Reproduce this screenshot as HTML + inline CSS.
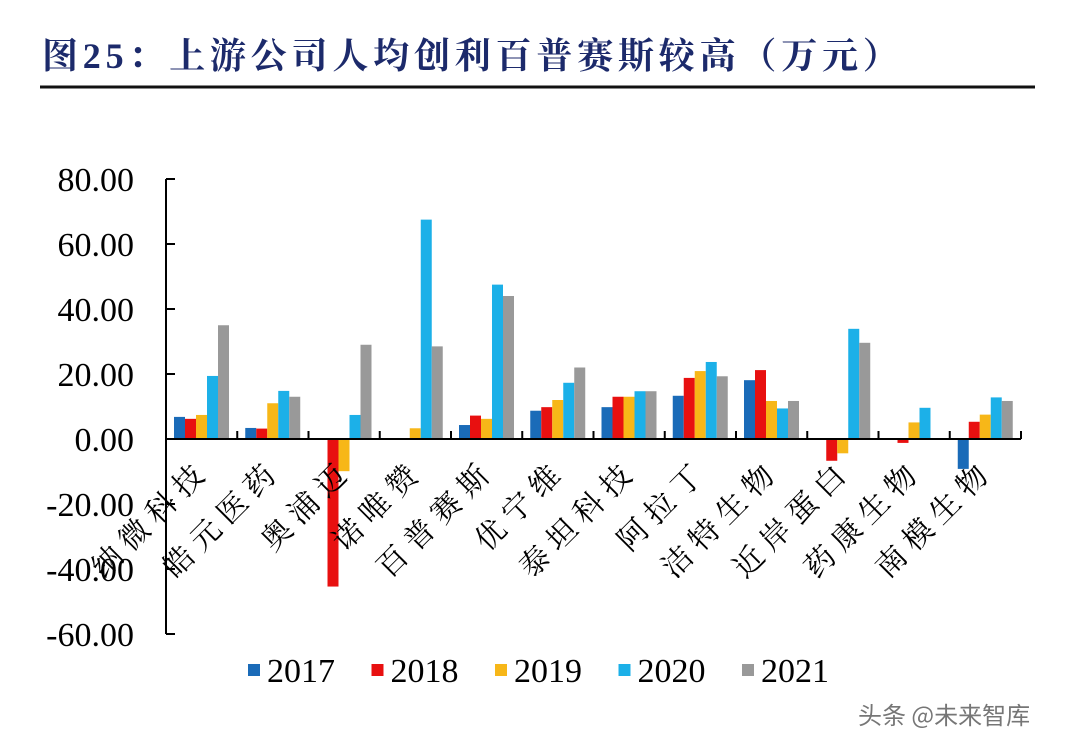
<!DOCTYPE html>
<html><head><meta charset="utf-8"><style>
body{margin:0;background:#fff;width:1080px;height:747px;overflow:hidden;}
svg{display:block}
</style></head><body>
<svg id="c" width="1080" height="747" viewBox="0 0 1080 747">
<text x="42" y="68" font-family="'Liberation Serif','Noto Serif CJK SC',serif" font-weight="bold" font-size="36" letter-spacing="4.8" fill="#1c2a6b">图25：上游公司人均创利百普赛斯较高（万元）</text>
<line x1="40" y1="87" x2="1035" y2="87" stroke="#111" stroke-width="3"/>
<g id="plot"></g>
<text x="858" y="724" font-family="'Noto Sans CJK SC',sans-serif" font-size="24" fill="#555" opacity="0.8">头条 @未来智库</text>
</svg>
<script>
const categories=["纳微科技","皓元医药","奥浦迈","诺唯赞","百普赛斯","优宁维","泰坦科技","阿拉丁","洁特生物","近岸蛋白","药康生物","南模生物"];
const seriesNames=["2017","2018","2019","2020","2021"];
const v2017=[6.8,3.4,0,0.3,4.3,8.7,9.8,13.3,18.1,0,0,-9.2];
const v2018=[6.2,3.2,-45.4,0,7.2,9.8,13,18.8,21.2,-6.7,-1.2,5.3];
const v2019=[7.4,11,-9.9,3.3,6.2,12,13,20.9,11.7,-4.4,5.1,7.5];
const v2020=[19.4,14.8,7.4,67.5,47.5,17.3,14.7,23.7,9.4,33.9,9.6,12.8];
const v2021=[35,13,29,28.5,44,22,14.7,19.3,11.7,29.6,0,11.7];
const yTicks=[80,60,40,20,0,-20,-40,-60];
const yTickLabels=["80.00","60.00","40.00","20.00","0.00","-20.00","-40.00","-60.00"];
const colors=["#1a6bb8","#e81010","#f7b718","#1cb0e8","#999999"];
const series=[v2017,v2018,v2019,v2020,v2021];
const NS="http://www.w3.org/2000/svg";
const g=document.getElementById('plot');
const x0=166,x1=1021;
function y(v){return 439-(v)*(439-179)/80;}
const band=(x1-x0)/categories.length;
function xc(i){return x0+band*i;}
function mk(t,a){const e=document.createElementNS(NS,t);for(const k in a)e.setAttribute(k,a[k]);g.appendChild(e);return e;}
const F="'Liberation Serif','Noto Serif CJK SC',serif";
let e=mk('line',{x1:x0,y1:y(80),x2:x0,y2:y(-60),stroke:'#000','stroke-width':2});


yTicks.forEach((t,i)=>{
 let l=mk('line',{x1:x0,y1:y(t),x2:x0+9,y2:y(t),stroke:'#000','stroke-width':2});
 
 
 let tx=mk('text',{x:134,y:y(t)+12,'text-anchor':'end','font-family':F,'font-size':34,fill:'#000'});
 tx.textContent=yTickLabels[i];
 
 
});
const bw=11;
categories.forEach((c,i)=>{
 series.forEach((s,k)=>{
  const v=s[i]; if(v===0) return;
  const bx=xc(i)+8+k*bw;
  const r=mk('rect',{x:bx,y:Math.min(y(v),y(0)),width:bw,height:Math.abs(y(v)-y(0)),fill:colors[k]});
  
  
 });
 const cx=xc(i)+band/2+10;
 const ty=472;
 const t=mk('text',{x:cx,y:ty,'text-anchor':'end','font-family':"'Noto Serif CJK SC',serif",'font-size':30,'letter-spacing':8,fill:'#000',transform:`rotate(-45 ${cx} ${ty})`});
 t.textContent=c;
 
 
});
e=mk('line',{x1:x0,y1:y(0),x2:x1,y2:y(0),stroke:'#000','stroke-width':2});


for(let i=1;i<=categories.length;i++){
 let l=mk('line',{x1:xc(i),y1:y(0)-8,x2:xc(i),y2:y(0),stroke:'#000','stroke-width':2});
 
 
}
seriesNames.forEach((n,k)=>{
 const lx=248+k*123.5;
 let r=mk('rect',{x:lx,y:664,width:12,height:12,fill:colors[k]});
 
 
 let t=mk('text',{x:lx+19,y:682,'font-family':F,'font-size':34,fill:'#000'});
 t.textContent=n;
 
 
});
</script>
</body></html>
